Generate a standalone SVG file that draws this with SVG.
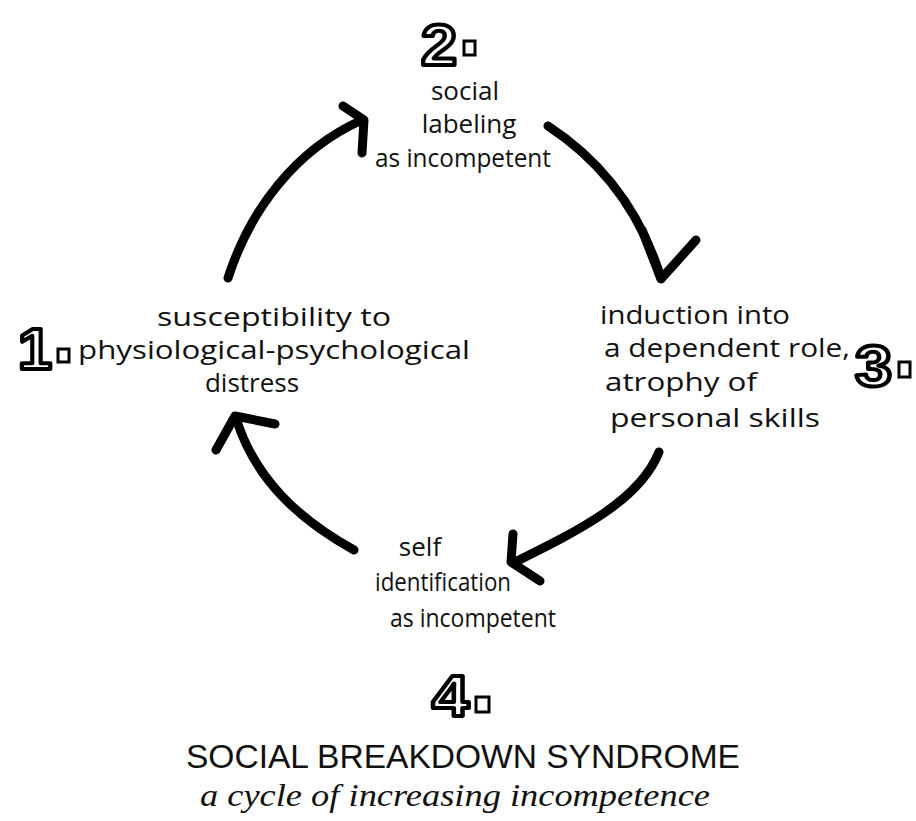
<svg xmlns="http://www.w3.org/2000/svg" width="916" height="821" viewBox="0 0 916 821">
<style>
.t{font-family:"Open Sans","Liberation Sans",sans-serif;font-size:26px;fill:#111;}
.n{font-family:"Liberation Sans",sans-serif;font-size:58px;font-weight:bold;fill:#fff;stroke:#000;stroke-width:4;stroke-linejoin:round;}
.sq{fill:#fff;stroke:#000;stroke-width:3;}
.a{fill:none;stroke:#000;stroke-width:9;stroke-linecap:round;stroke-linejoin:round;}
.h{font-family:"Liberation Sans",sans-serif;font-size:33px;fill:#111;}
.s{font-family:"Liberation Serif",serif;font-style:italic;font-size:31px;fill:#111;}
</style>
<rect width="916" height="821" fill="#fff"/>
<g id="connectors">
<path class="a" d="M228,278 C250,210 295,150 362,120"/>
<path class="a" d="M343,106 L364,120 L362,153"/>
<path class="a" d="M548,126 C600,160 640,210 661,278"/>
<path class="a" d="M642,230 L661,279 L696,240"/>
<path class="a" d="M659,452 C640,500 580,530 513,563"/>
<path class="a" d="M513,534 L511,562 L540,581"/>
<path class="a" d="M354,550 C300,520 255,480 236,418"/>
<path class="a" d="M216,450 L235,416 L275,424"/>
</g>
<g id="node2">
<text class="n" x="421" y="65" textLength="36" lengthAdjust="spacingAndGlyphs">2</text>
<rect class="sq" x="464" y="41" width="11" height="14"/>
<text class="t" x="465" y="100" text-anchor="middle">social</text>
<text class="t" x="469" y="133" text-anchor="middle">labeling</text>
<text class="t" x="463" y="167" text-anchor="middle" textLength="176" lengthAdjust="spacingAndGlyphs">as incompetent</text>
</g>
<g id="node1">
<text class="n" x="18" y="369" textLength="34" lengthAdjust="spacingAndGlyphs">1</text>
<rect class="sq" x="58" y="349" width="11" height="13"/>
<text class="t" x="274" y="326" text-anchor="middle" textLength="234" lengthAdjust="spacingAndGlyphs">susceptibility to</text>
<text class="t" x="274" y="359" text-anchor="middle" textLength="392" lengthAdjust="spacingAndGlyphs">physiological-psychological</text>
<text class="t" x="252" y="392" text-anchor="middle">distress</text>
</g>
<g id="node3">
<text class="n" x="855" y="386" textLength="37" lengthAdjust="spacingAndGlyphs">3</text>
<rect class="sq" x="899" y="362" width="11" height="15"/>
<text class="t" x="600" y="324" textLength="190" lengthAdjust="spacingAndGlyphs">induction into</text>
<text class="t" x="604" y="357" textLength="246" lengthAdjust="spacingAndGlyphs">a dependent role,</text>
<text class="t" x="605" y="391" textLength="152" lengthAdjust="spacingAndGlyphs">atrophy of</text>
<text class="t" x="610" y="427" textLength="210" lengthAdjust="spacingAndGlyphs">personal skills</text>
</g>
<g id="node4">
<text class="n" x="432" y="716" textLength="37" lengthAdjust="spacingAndGlyphs">4</text>
<rect class="sq" x="476" y="697" width="13" height="15"/>
<text class="t" x="420" y="556" text-anchor="middle">self</text>
<text class="t" x="443" y="591" text-anchor="middle" textLength="136" lengthAdjust="spacingAndGlyphs">identification</text>
<text class="t" x="473" y="627" text-anchor="middle" textLength="166" lengthAdjust="spacingAndGlyphs">as incompetent</text>
</g>
<g id="title">
<text class="h" x="186" y="768" textLength="554" lengthAdjust="spacingAndGlyphs">SOCIAL BREAKDOWN SYNDROME</text>
<text class="s" x="200" y="806" textLength="510" lengthAdjust="spacingAndGlyphs">a cycle of increasing incompetence</text>
</g>
</svg>
